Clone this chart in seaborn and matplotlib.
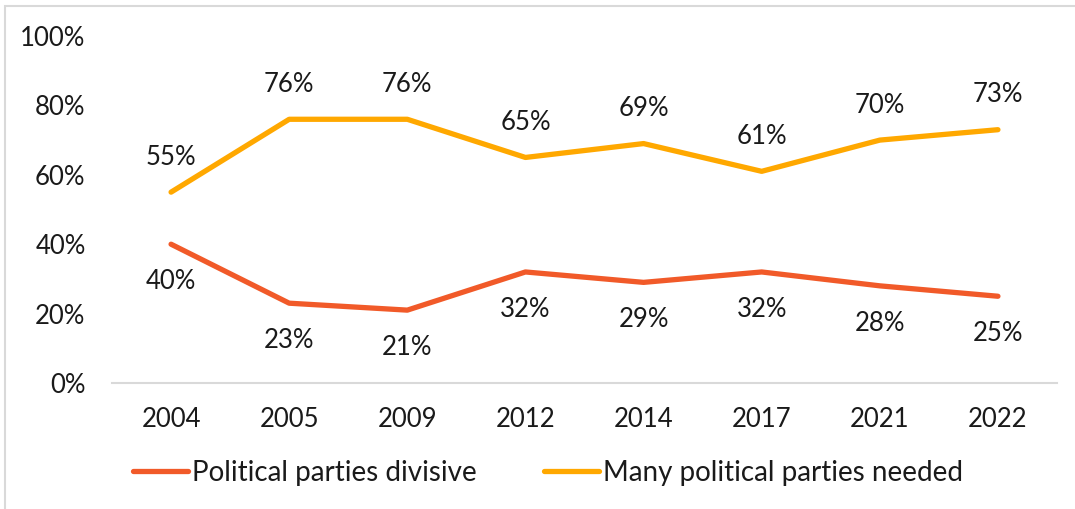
import matplotlib
matplotlib.use("Agg")
import matplotlib.pyplot as plt
import matplotlib.patches as mpatches
import seaborn as sns
import pandas as pd

# Survey years and shares (%) for each statement
years = ["2004", "2005", "2009", "2012", "2014", "2017", "2021", "2022"]
divisive = [40, 23, 21, 32, 29, 32, 28, 25]
needed = [55, 76, 76, 65, 69, 61, 70, 73]
series_names = ["Political parties divisive", "Many political parties needed"]
y_ticks = [0, 20, 40, 60, 80, 100]

colors = {series_names[0]: "#F15A29", series_names[1]: "#FFA800"}

df = pd.DataFrame({
    "year": years * 2,
    "share": divisive + needed,
    "series": [series_names[0]] * len(years) + [series_names[1]] * len(years),
})
df["pos"] = df["year"].map({y: i for i, y in enumerate(years)})

sns.set_theme(style="white")
plt.rcParams["font.family"] = ["Lato", "DejaVu Sans"]
FS = 18.5
LEG_FS = 20

fig = plt.figure(figsize=(10.75, 5.09), dpi=100)
ax = fig.add_axes([112 / 1075, 1 - 383 / 509, 945 / 1075, 347 / 509])

sns.lineplot(data=df, x="pos", y="share", hue="series", hue_order=series_names,
             palette=colors, linewidth=3.8, ax=ax, legend=False,
             solid_capstyle="round", solid_joinstyle="round")

# value labels: above for "needed", below for "divisive"
for i, v in enumerate(needed):
    ax.annotate(f"{v}%", (i, v), xytext=(0, 25), textcoords="offset points",
                ha="center", va="center", fontsize=FS, color="#1a1a1a")
for i, v in enumerate(divisive):
    ax.annotate(f"{v}%", (i, v), xytext=(0, -27), textcoords="offset points",
                ha="center", va="center", fontsize=FS, color="#1a1a1a")

ax.set_xlim(-0.5, len(years) - 0.5)
ax.set_ylim(0, 100)
ax.set_xticks(range(len(years)))
ax.set_xticklabels(years)
ax.set_yticks(y_ticks)
ax.set_yticklabels([f"{t}%" for t in y_ticks])
ax.tick_params(axis="both", length=0, labelsize=FS, colors="#1a1a1a")
ax.tick_params(axis="y", pad=19)
ax.tick_params(axis="x", pad=17)
ax.set_xlabel("")
ax.set_ylabel("")
for side in ["top", "right", "left"]:
    ax.spines[side].set_visible(False)
ax.spines["bottom"].set_color("#D9D9D9")
ax.spines["bottom"].set_linewidth(1.5)
ax.grid(False)

handles = [plt.Line2D([], [], color=colors[n], lw=3.8, solid_capstyle="round") for n in series_names]
fig.legend(handles, series_names, loc="center", bbox_to_anchor=(548 / 1075, 1 - 473 / 509),
           ncol=2, frameon=False, fontsize=LEG_FS, handlelength=2.0, handletextpad=0.15,
           columnspacing=2.4, labelcolor="#1a1a1a")

# light frame around the chart area
fig.patches.append(mpatches.Rectangle((5 / 1075, -0.1), 1.2, 1 - 6 / 509 + 0.1,
                                      transform=fig.transFigure, fill=False,
                                      edgecolor="#D9D9D9", linewidth=1.5))

fig.savefig("out.png", dpi=100)
